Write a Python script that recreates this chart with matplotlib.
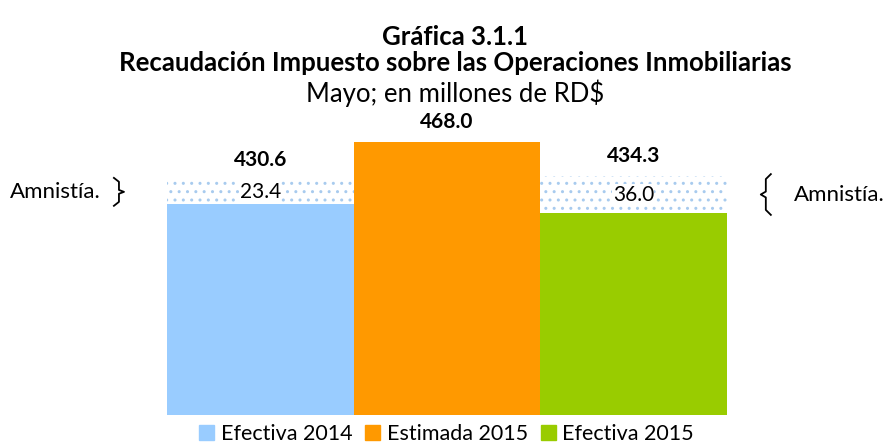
import matplotlib.pyplot as plt
import matplotlib.transforms as mtransforms

plt.rcParams['font.family'] = ['Lato', 'DejaVu Sans']

categories = ['Efectiva 2014', 'Estimada 2015', 'Efectiva 2015']
base_vals = [407.2, 468.0, 398.3]
amnistia = [23.4, 0.0, 36.0]
totals = [430.6, 468.0, 434.3]
colors = ['#99CCFF', '#FF9900', '#99CC00']

fig = plt.figure(figsize=(8.84, 4.46), dpi=100)
ax = fig.add_axes([0.189, 0.0695, 0.633, 0.64])

x = range(len(categories))
ax.bar(x, base_vals, width=1.0, color=colors, linewidth=0)
ax.bar(x, amnistia, bottom=base_vals, width=1.0, color='white',
       edgecolor='#A8CBEE', hatch='..', linewidth=0)

ax.set_xlim(-0.5, 2.5)
ax.set_ylim(200, 480)
ax.axis('off')

# total labels
for i, t in enumerate(totals):
    ax.annotate(f'{t:.1f}', (i, t), xytext=(0, 7), textcoords='offset points',
                ha='center', va='bottom', fontsize=15, fontweight='bold')
# amnesty labels
for i, a in enumerate(amnistia):
    if a > 0:
        ax.text(i, base_vals[i] + a / 2, f'{a:.1f}', ha='center', va='center',
                fontsize=15, bbox=dict(facecolor='white', edgecolor='none', pad=0.3))

# braces
tr = mtransforms.blended_transform_factory(ax.transAxes, ax.transData)


def brace(xa, y0, y1, direction):
    d = 0.009 * direction
    ym = (y0 + y1) / 2
    h = (y1 - y0) * 0.08
    xs = [xa - d, xa, xa, xa + d, xa, xa, xa - d]
    ys = [y1 + 2, y1 - h, ym + h, ym, ym - h, y0 + h, y0 - 2]
    ax.plot(xs, ys, color='black', lw=1.3, transform=tr, clip_on=False)


brace(-0.086, base_vals[0], totals[0], 1)
ax.text(-0.118, base_vals[0] + amnistia[0] / 2, 'Amnistía.', transform=tr,
        ha='right', va='center', fontsize=16)
brace(1.07, base_vals[2], totals[2], -1)
ax.text(1.12, base_vals[2] + amnistia[2] / 2, 'Amnistía.', transform=tr,
        ha='left', va='center', fontsize=16)

fig.text(0.515, 0.918, 'Gráfica 3.1.1', ha='center', va='center',
         fontsize=18.5, fontweight='bold')
fig.text(0.515, 0.858, 'Recaudación Impuesto sobre las Operaciones Inmobiliarias',
         ha='center', va='center', fontsize=18.5, fontweight='bold')
fig.text(0.515, 0.79, 'Mayo; en millones de RD$', ha='center', va='center',
         fontsize=18.5)

handles = [plt.Rectangle((0, 0), 1, 1, color=c) for c in colors]
fig.legend(handles, categories, loc='lower center', ncol=3, frameon=False,
           fontsize=15.5, bbox_to_anchor=(0.505, -0.04), handlelength=0.7,
           handleheight=0.7, handletextpad=0.3, columnspacing=0.6)

fig.savefig('out.png', dpi=100)
